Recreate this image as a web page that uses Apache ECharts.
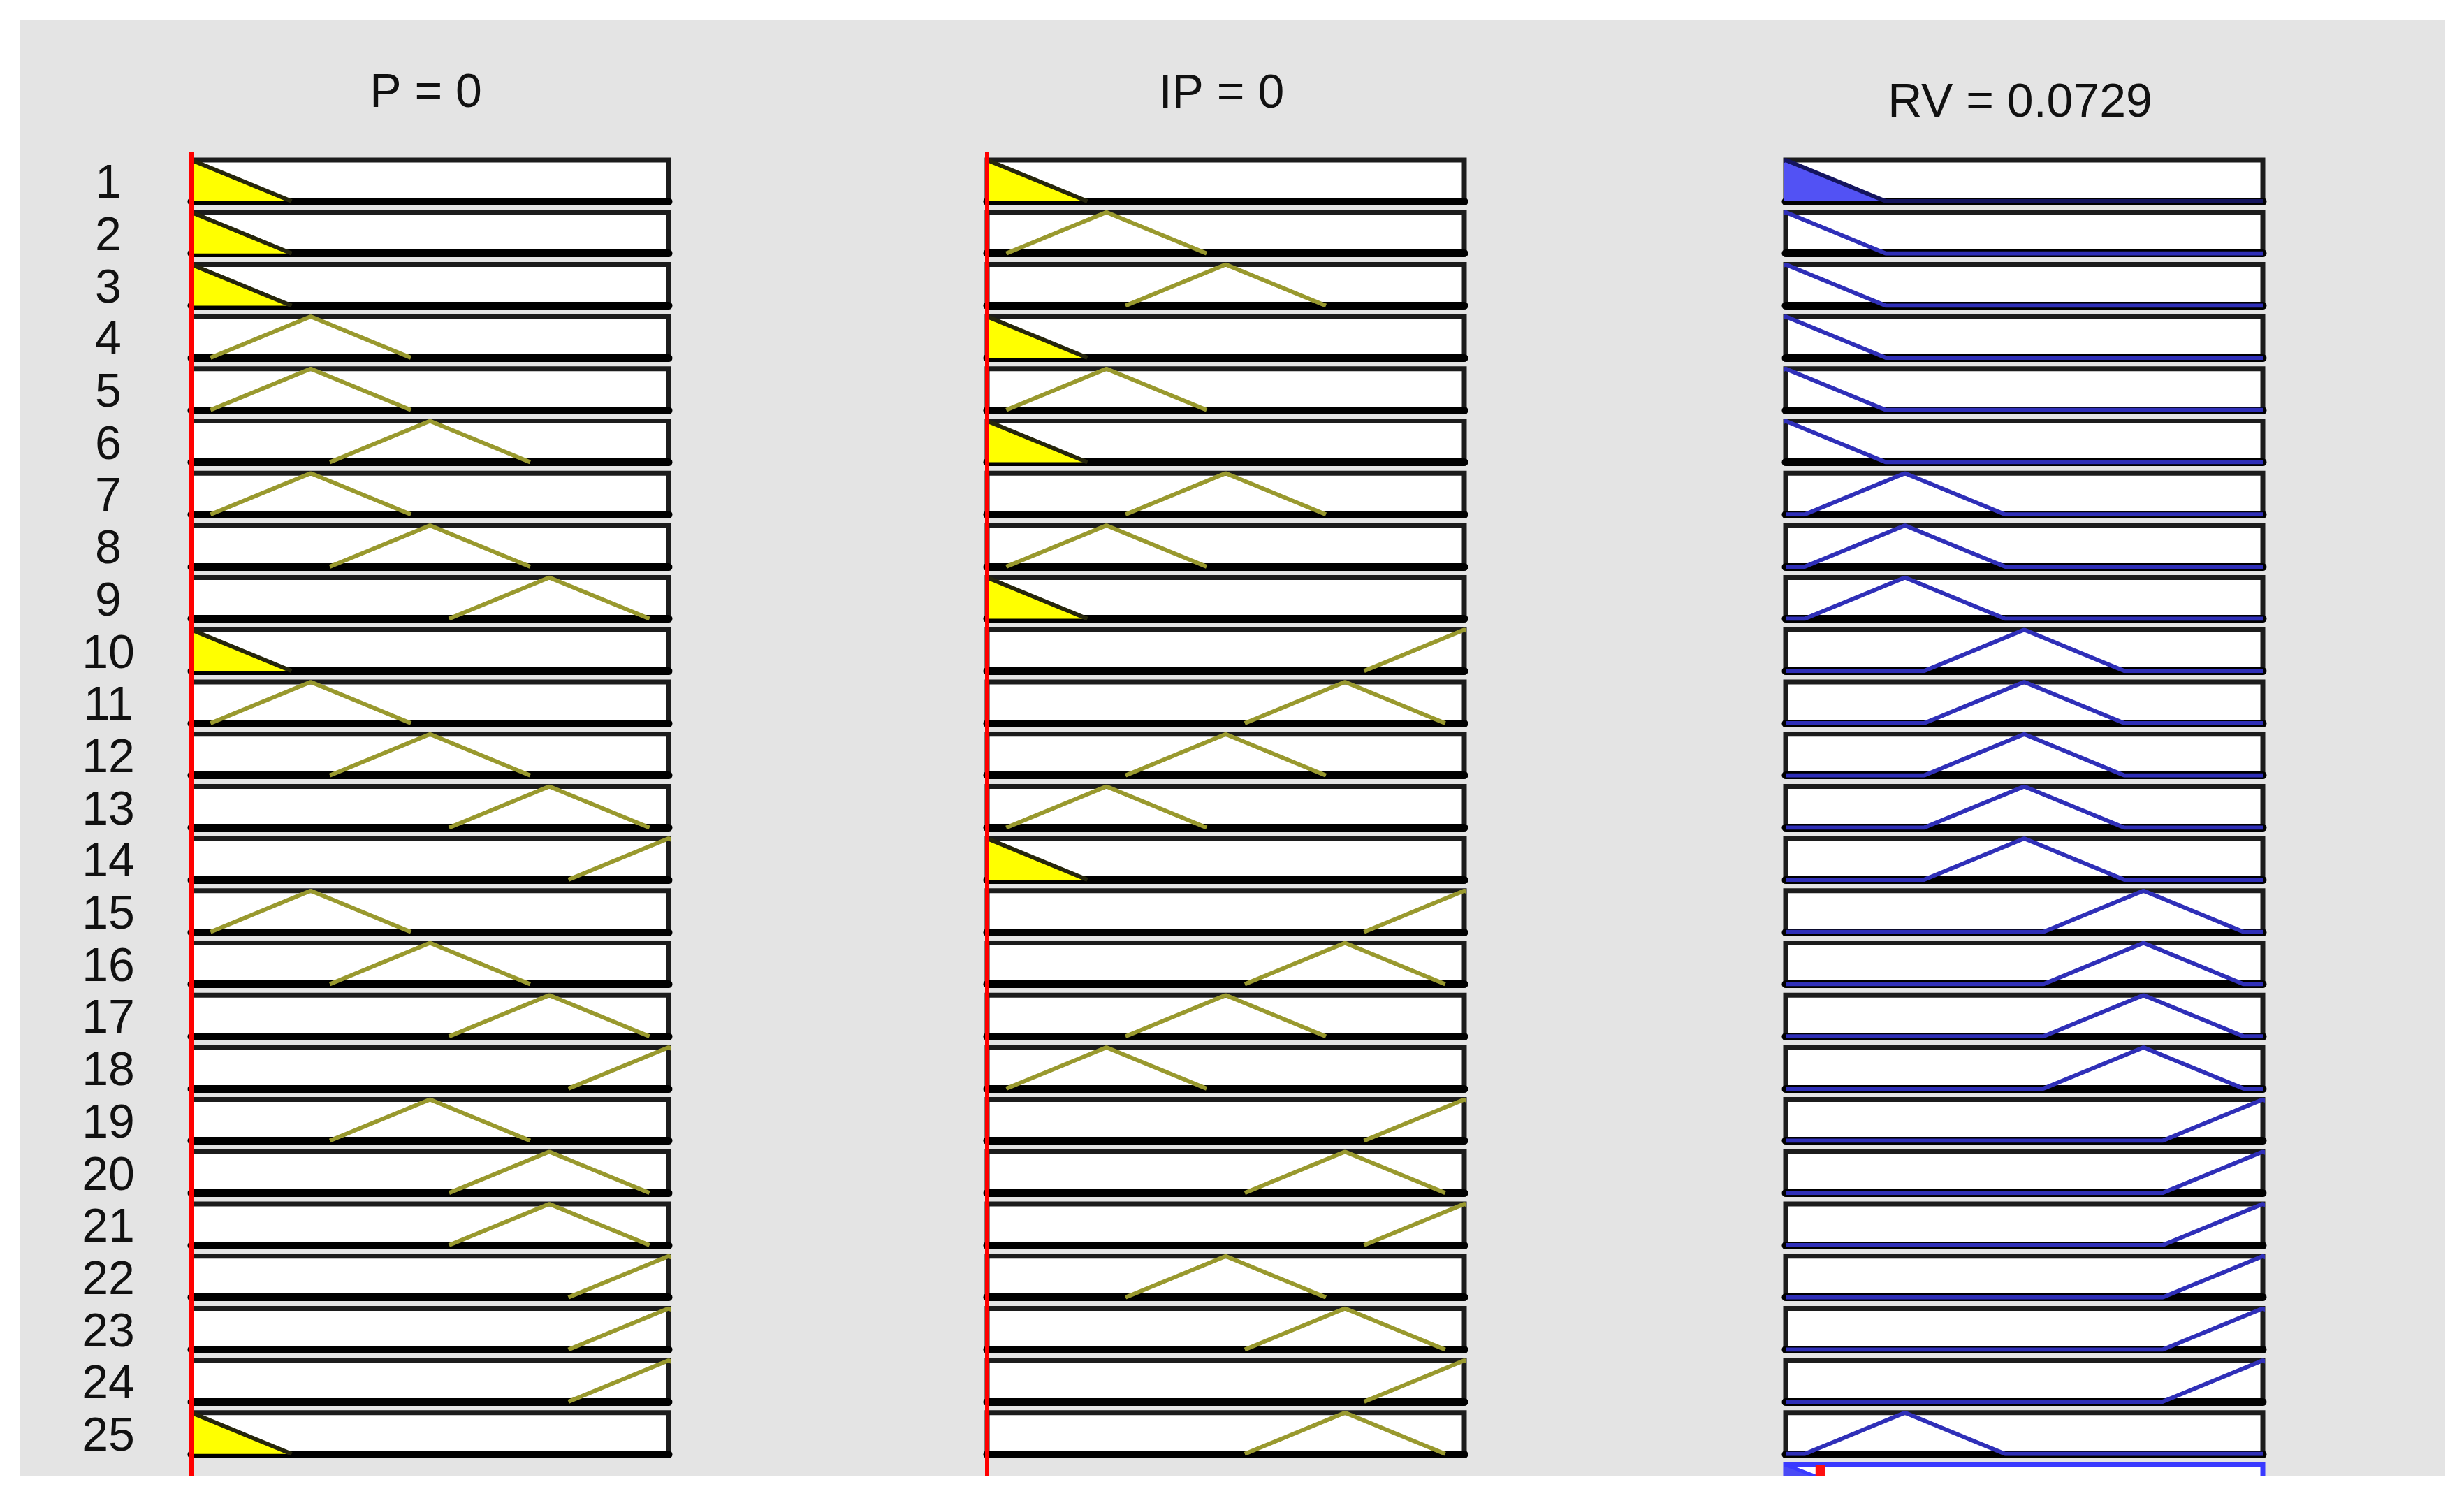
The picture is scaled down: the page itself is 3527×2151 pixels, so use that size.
<!DOCTYPE html>
<html>
<head>
<meta charset="utf-8">
<title>Rule viewer</title>
<script src="https://cdn.jsdelivr.net/npm/echarts@6/dist/echarts.min.js"></script>
<style>
  html, body { margin: 0; padding: 0; background: #fff; }
  #chart { width: 3527px; height: 2151px; }
</style>
</head>
<body>
<div id="chart"></div>
<script>
// values shown above each column
var inputNames = ['P', 'IP'];
var inputValues = [0, 0];
var outputName = 'RV';
var outputValue = 0.0729;

// triangular membership functions [a, b, c]
var pMF  = [[-0.21, 0, 0.21], [0.04, 0.25, 0.46], [0.29, 0.5, 0.71], [0.54, 0.75, 0.96], [0.79, 1, 1.21]];
var ipMF = [[-0.21, 0, 0.21], [0.04, 0.25, 0.46], [0.29, 0.5, 0.71], [0.54, 0.75, 0.96], [0.79, 1, 1.21]];
var rvMF = [[-0.21, 0, 0.21], [0.04, 0.25, 0.46], [0.29, 0.5, 0.71], [0.54, 0.75, 0.96], [0.79, 1, 1.21]];

// rule base, MF number used by each rule (1..25)
var ruleP  = [1, 1, 1, 2, 2, 3, 2, 3, 4, 1, 2, 3, 4, 5, 2, 3, 4, 5, 3, 4, 4, 5, 5, 5, 1];
var ruleIP = [1, 2, 3, 1, 2, 1, 3, 2, 1, 5, 4, 3, 2, 1, 5, 4, 3, 2, 5, 4, 5, 3, 4, 5, 4];
var ruleRV = [1, 1, 1, 1, 1, 1, 2, 2, 2, 3, 3, 3, 3, 3, 4, 4, 4, 4, 5, 5, 5, 5, 5, 5, 2];

// layout
var colLeft = [274, 1413, 2556];
var colWidth = 683;
var firstTop = 229;
var rowStep = 74.7;
var boxHeight = 59;
var titleY = [134, 135, 148];
var numberX = 155;
var numberDy = 6;
var panel = { left: 29, top: 28, right: 3500, bottom: 2113 };

function trimf(x, p) {
  if (x <= p[0] || x >= p[2]) return x === p[1] ? 1 : 0;
  return x <= p[1] ? (x - p[0]) / (p[1] - p[0]) : (p[2] - x) / (p[2] - p[1]);
}

// points of a triangle; "full" also runs the zero line over the whole range
function mfPoints(p, full) {
  var pts = [];
  if (full && p[0] > 0) pts.push([0, 0]);
  pts.push([p[0], 0], [p[1], 1], [p[2], 0]);
  if (full && p[2] < 1) pts.push([1, 0]);
  return pts;
}

var grids = [], xAxes = [], yAxes = [], series = [];

function addBox(left, boxTop, height, border, bottomLine) {
  var i = grids.length;
  grids.push({
    show: !!border, left: left, top: boxTop, width: colWidth, height: height,
    backgroundColor: '#fff', borderColor: border || '#1c1c1c', borderWidth: 7
  });
  xAxes.push({
    gridIndex: i, type: 'value', min: 0, max: 1,
    axisLine: { show: !!bottomLine, onZero: false, lineStyle: { color: '#000', width: 11 } },
    axisTick: { show: false }, axisLabel: { show: false }, splitLine: { show: false }
  });
  yAxes.push({
    gridIndex: i, type: 'value', min: 0, max: 1,
    axisLine: { show: false }, axisTick: { show: false },
    axisLabel: { show: false }, splitLine: { show: false }
  });
  return i;
}

function addLine(i, pts, color, width, fill, z) {
  var s = {
    type: 'line', xAxisIndex: i, yAxisIndex: i, data: pts,
    symbol: 'none', silent: true, z: z || 3,
    lineStyle: { color: color, width: width }
  };
  if (fill) s.areaStyle = { color: fill, opacity: 1, origin: 'start' };
  series.push(s);
}

var graphics = [];
var inMFs = [pMF, ipMF];
var inRules = [ruleP, ruleIP];

for (var r = 0; r < ruleRV.length; r++) {
  var rowTop = firstTop + r * rowStep;
  var strength = 1;
  for (var c = 0; c < 2; c++) {
    var p = inMFs[c][inRules[c][r] - 1];
    var mu = trimf(inputValues[c], p);
    strength = Math.min(strength, mu);
    var gi = addBox(colLeft[c], rowTop, boxHeight, '#1c1c1c', true);
    addLine(gi, mfPoints(p, false), mu > 0 ? '#26260c' : '#99992e', 6, mu > 0 ? '#ffff00' : null);
  }
  var go = addBox(colLeft[2], rowTop, boxHeight, '#1c1c1c', true);
  addLine(go, mfPoints(rvMF[ruleRV[r] - 1], true), strength > 0 ? '#14145e' : '#2f2fb8', 6, strength > 0 ? '#5252f4' : null);

  graphics.push({
    type: 'text', x: numberX, y: rowTop + boxHeight / 2 + numberDy, z: 50,
    style: { text: String(r + 1), font: '68px "Liberation Sans", Arial, sans-serif', fill: '#111', align: 'center', verticalAlign: 'middle' }
  });
}

// aggregated output row (only its top shows)
var aggTop = firstTop + ruleRV.length * rowStep;
var ga = addBox(colLeft[2], aggTop, boxHeight, '#3a3aff', false);
for (var k = 0; k < ruleRV.length; k++) {
  var fire = Math.min(trimf(inputValues[0], pMF[ruleP[k] - 1]), trimf(inputValues[1], ipMF[ruleIP[k] - 1]));
  if (fire > 0) addLine(ga, mfPoints(rvMF[ruleRV[k] - 1], false), '#3a3aff', 5, '#4a4af6');
}
addLine(ga, [[outputValue, 0], [outputValue, 1]], '#ff1010', 14, null, 6);

// red input lines through all rule rows
for (var c2 = 0; c2 < 2; c2++) {
  var ti = addBox(colLeft[c2], 218, panel.bottom - 218, null, false);
  addLine(ti, [[inputValues[c2], 0], [inputValues[c2], 1]], '#ff0000', 6, null, 10);
}

// column titles
var titles = [
  inputNames[0] + ' = ' + inputValues[0],
  inputNames[1] + ' = ' + inputValues[1],
  outputName + ' = ' + outputValue
];
titles.forEach(function (t, c) {
  graphics.push({
    type: 'text', x: colLeft[c] + colWidth / 2 - 6, y: titleY[c], z: 50,
    style: { text: t, font: '68px "Liberation Sans", Arial, sans-serif', fill: '#111', align: 'center', verticalAlign: 'middle' }
  });
});

// white margin round the grey figure
[
  [0, 0, 3527, panel.top],
  [0, 0, panel.left, 2151],
  [panel.right, 0, 3527 - panel.right, 2151],
  [0, panel.bottom, 3527, 2151 - panel.bottom]
].forEach(function (m) {
  graphics.push({ type: 'rect', x: m[0], y: m[1], z: 100, shape: { width: m[2], height: m[3] }, style: { fill: '#fff' } });
});

var chart = echarts.init(document.getElementById('chart'));
chart.setOption({
  animation: false,
  backgroundColor: '#e4e4e4',
  grid: grids,
  xAxis: xAxes,
  yAxis: yAxes,
  series: series,
  graphic: { elements: graphics }
});
</script>
</body>
</html>
